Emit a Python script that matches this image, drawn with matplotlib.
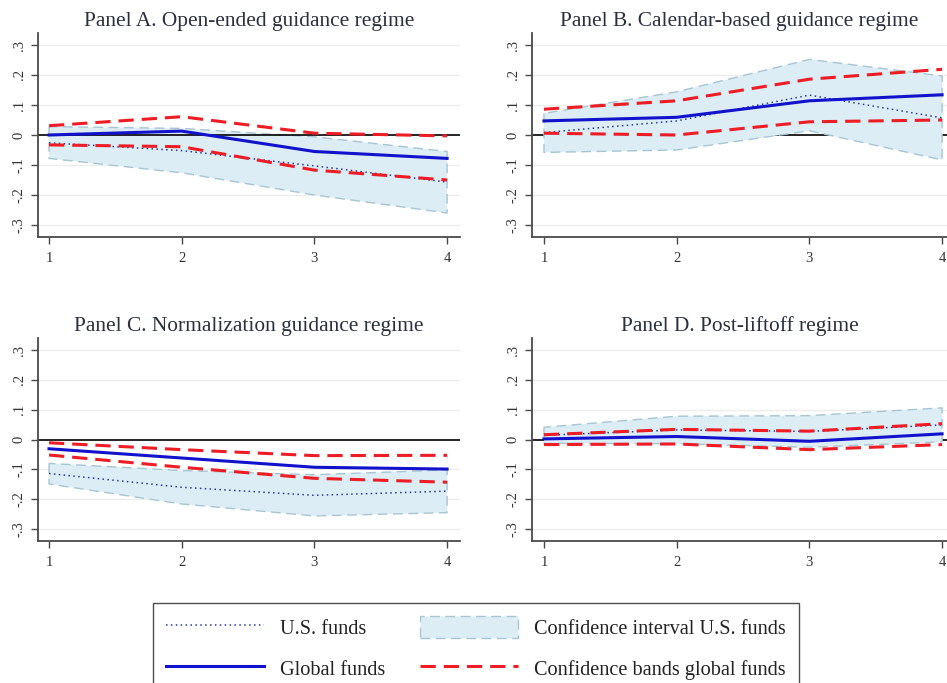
import matplotlib
matplotlib.use("Agg")
import matplotlib.pyplot as plt
from matplotlib.lines import Line2D
from matplotlib.patches import Patch

plt.rcParams["font.family"] = ["Liberation Serif", "DejaVu Serif"]

# Horizon (quarters after the announcement)
horizon = [1, 2, 3, 4]

titles = [
    "Panel A. Open-ended guidance regime",
    "Panel B. Calendar-based guidance regime",
    "Panel C. Normalization guidance regime",
    "Panel D. Post-liftoff regime",
]

# Global funds: point estimate and confidence bands
global_a = [0.000, 0.013, -0.055, -0.078]
global_hi_a = [0.031, 0.061, 0.006, -0.003]
global_lo_a = [-0.033, -0.039, -0.117, -0.150]
global_b = [0.047, 0.059, 0.114, 0.134]
global_hi_b = [0.086, 0.114, 0.186, 0.219]
global_lo_b = [0.006, 0.000, 0.044, 0.050]
global_c = [-0.031, -0.062, -0.093, -0.099]
global_hi_c = [-0.011, -0.034, -0.054, -0.053]
global_lo_c = [-0.052, -0.093, -0.130, -0.143]
global_d = [0.002, 0.010, -0.006, 0.019]
global_hi_d = [0.016, 0.034, 0.028, 0.053]
global_lo_d = [-0.017, -0.015, -0.034, -0.017]

# U.S. funds: point estimate and confidence interval
us_a = [-0.026, -0.052, -0.103, -0.157]
us_hi_a = [0.028, 0.022, -0.006, -0.055]
us_lo_a = [-0.078, -0.126, -0.200, -0.260]
us_b = [0.008, 0.047, 0.133, 0.057]
us_hi_b = [0.072, 0.144, 0.252, 0.197]
us_lo_b = [-0.058, -0.050, 0.014, -0.083]
us_c = [-0.114, -0.160, -0.187, -0.173]
us_hi_c = [-0.080, -0.104, -0.118, -0.102]
us_lo_c = [-0.149, -0.216, -0.256, -0.245]
us_d = [0.014, 0.032, 0.027, 0.049]
us_hi_d = [0.041, 0.078, 0.080, 0.106]
us_lo_d = [-0.013, -0.014, -0.026, -0.008]

y_ticks = [-0.3, -0.2, -0.1, 0.0, 0.1, 0.2, 0.3]
y_tick_labels = ["-.3", "-.2", "-.1", "0", ".1", ".2", ".3"]

panels = [
    (global_a, global_hi_a, global_lo_a, us_a, us_hi_a, us_lo_a),
    (global_b, global_hi_b, global_lo_b, us_b, us_hi_b, us_lo_b),
    (global_c, global_hi_c, global_lo_c, us_c, us_hi_c, us_lo_c),
    (global_d, global_hi_d, global_lo_d, us_d, us_hi_d, us_lo_d),
]

W, H = 947, 683
fig = plt.figure(figsize=(W / 100, H / 100), dpi=100)
fig.patch.set_facecolor("white")

# axes boxes in pixels: left, right, top, bottom
boxes = [
    (38, 460, 33, 237),
    (532, 947, 33, 237),
    (38, 460, 338, 541),
    (532, 947, 338, 541),
]
xlims = [(0.917, 4.097), (0.910, 4.037), (0.917, 4.097), (0.910, 4.037)]
zero_on_top = [True, False, True, False]

BLUE = "#1212cc"
RED = "#ee1c25"
NAVY = "#2b3aa0"
FILL = "#dcedf5"
EDGE = "#a6c6d2"
AXC = "#4a4a4a"
TXT = "#2b3040"

for i, (box, title, data) in enumerate(zip(boxes, titles, panels)):
    l, r, t, b = box
    ax = fig.add_axes([l / W, 1 - b / H, (r - l) / W, (b - t) / H])
    g, g_hi, g_lo, us, us_hi, us_lo = data

    for yv in y_ticks:
        if yv != 0:
            ax.axhline(yv, color="#ececec", lw=0.9, zorder=0)
    ax.axhline(0, color="black", lw=1.2, zorder=2.5 if zero_on_top[i] else 1)

    ax.fill_between(horizon, us_lo, us_hi, facecolor=FILL, edgecolor=EDGE,
                    linestyle=(0, (7, 4)), linewidth=1.0, zorder=2)
    ax.plot(horizon, us, color=NAVY, lw=1.1, linestyle=(0, (1, 2.2)), zorder=3)
    ax.plot(horizon, g_hi, color=RED, lw=2.2, linestyle=(0, (5, 2.6)), zorder=4)
    ax.plot(horizon, g_lo, color=RED, lw=2.2, linestyle=(0, (5, 2.6)), zorder=4)
    ax.plot(horizon, g, color=BLUE, lw=2.2, zorder=5)

    ax.set_xlim(*xlims[i])
    ax.set_ylim(-0.34, 0.34)
    ax.set_xticks(horizon)
    ax.set_xticklabels([str(h) for h in horizon])
    ax.set_yticks(y_ticks)
    ax.set_yticklabels(y_tick_labels, rotation=90, va="center")
    for side in ("top", "right"):
        ax.spines[side].set_visible(False)
    for side in ("left", "bottom"):
        ax.spines[side].set_color(AXC)
        ax.spines[side].set_linewidth(1.3)
    ax.tick_params(axis="both", direction="out", length=5, width=1.0,
                   color=AXC, labelcolor="#333333", labelsize=10.5)
    ax.tick_params(axis="x", pad=6)
    ax.tick_params(axis="y", pad=4)
    ax.set_title(title, fontsize=15.4, color=TXT, pad=5)

handles = [
    Line2D([], [], color=NAVY, lw=1.1, linestyle=(0, (1, 2.2))),
    Line2D([], [], color=BLUE, lw=2.2),
    Patch(facecolor=FILL, edgecolor=EDGE, linestyle=(0, (7, 4)), linewidth=1.0),
    Line2D([], [], color=RED, lw=2.2, linestyle=(0, (5, 2.6))),
]
labels = ["U.S. funds", "Global funds", "Confidence interval U.S. funds",
          "Confidence bands global funds"]
leg = fig.legend(handles, labels, ncol=2, loc="upper left",
                 bbox_to_anchor=(153 / W, 1 - 603 / H), fontsize=14.6,
                 frameon=True, fancybox=False, edgecolor="#222222",
                 handlelength=4.8, handleheight=1.3, handletextpad=0.8,
                 columnspacing=1.75, labelspacing=0.9, borderpad=0.65,
                 borderaxespad=0)
leg.get_frame().set_linewidth(1.0)
for txt in leg.get_texts():
    txt.set_color("#222222")

fig.savefig("out.png", dpi=100)
